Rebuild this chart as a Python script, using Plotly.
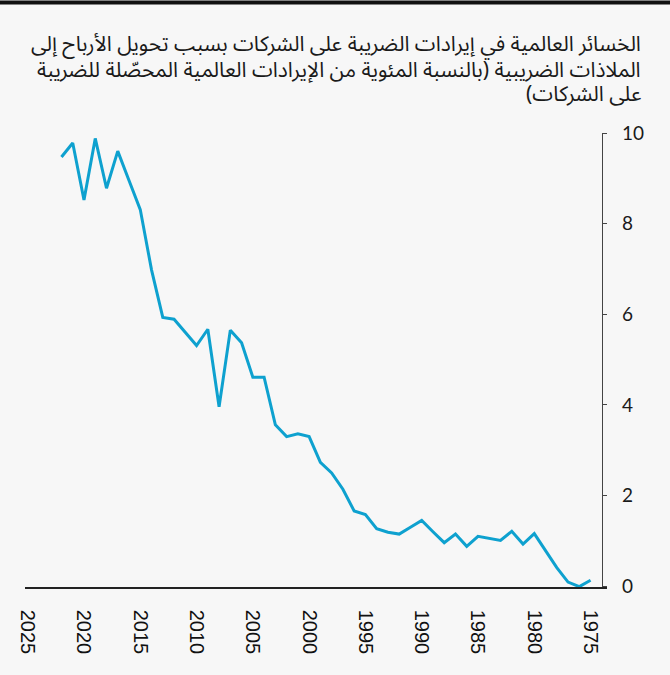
import plotly.graph_objects as go

years = list(range(2022, 1974, -1))
values = [9.47, 9.78, 8.52, 9.88, 8.78, 9.60, 8.95, 8.31, 6.98, 5.93,
          5.89, 5.61, 5.31, 5.67, 3.96, 5.65, 5.37, 4.61, 4.61, 3.56,
          3.30, 3.36, 3.30, 2.73, 2.50, 2.14, 1.66, 1.58, 1.27, 1.19,
          1.15, 1.30, 1.45, 1.20, 0.96, 1.15, 0.88, 1.10, 1.05, 1.01,
          1.21, 0.93, 1.16, 0.78, 0.41, 0.09, -0.01, 0.13]

x_ticks = list(range(2025, 1974, -5))
y_ticks = [0, 2, 4, 6, 8, 10]

title_lines = [
    "الخسائر العالمية في إيرادات الضريبة على الشركات بسبب تحويل الأرباح إلى",
    "الملاذات الضريبية (بالنسبة المئوية من الإيرادات العالمية المحصّلة للضريبة",
    "على الشركات)",
]

W, H = 670, 675
L, R, T, B = 25, 670 - 606.7, 132.7, 675 - 587.5
pw = W - L - R
ph = H - T - B

def px(xp):
    return (xp - L) / pw

def py(yp):
    return (H - B - yp) / ph

fig = go.Figure()
fig.add_trace(go.Scatter(
    x=years, y=values, mode="lines",
    line=dict(color="#0ea1cf", width=3),
    hoverinfo="skip",
))

RLM = "\u200f"
line_centers = [44, 69.5, 94]
annotations = [
    dict(
        xref="paper", yref="paper",
        x=px(643), y=py(yc), xanchor="right", yanchor="middle",
        text=RLM + t + RLM, align="right", showarrow=False,
        font=dict(family="Noto Sans Arabic, DejaVu Sans, Noto Sans", size=21, color="#1a1a1a"),
    )
    for t, yc in zip(title_lines, line_centers)
]

fig.update_layout(
    width=W, height=H,
    margin=dict(l=L, r=R, t=T, b=B, pad=0),
    paper_bgcolor="#f7f7f7",
    plot_bgcolor="#f7f7f7",
    showlegend=False,
    xaxis=dict(
        range=[2025.24, 1973.54],
        tickvals=x_ticks,
        ticktext=[str(v) for v in x_ticks],
        tickangle=90,
        showgrid=False, zeroline=False,
        showline=True, linecolor="#222222", linewidth=1.5,
        ticks="", ticklabelstandoff=17,
        tickfont=dict(family="Liberation Sans, Arial", size=20, color="#111111"),
    ),
    yaxis=dict(
        range=[-0.018, 10],
        tickvals=y_ticks,
        side="right",
        anchor="free",
        position=px(601.7),
        showgrid=False, zeroline=False,
        showline=True, linecolor="#444444", linewidth=1.2,
        ticks="outside", ticklen=4, tickcolor="#444444", tickwidth=1.2,
        ticklabelstandoff=11,
        tickfont=dict(family="Lato, Noto Sans", size=19, color="#1a1a1a"),
    ),
    shapes=[dict(
        type="rect", xref="paper", yref="paper",
        x0=px(0), x1=px(670), y0=py(4), y1=py(0),
        fillcolor="#111111", line=dict(width=0),
    )],
    annotations=annotations,
)

fig.write_html(
    "out.html",
    config={"displayModeBar": False},
    post_script="document.body.style.margin='0';document.body.style.background='#f7f7f7';",
)
